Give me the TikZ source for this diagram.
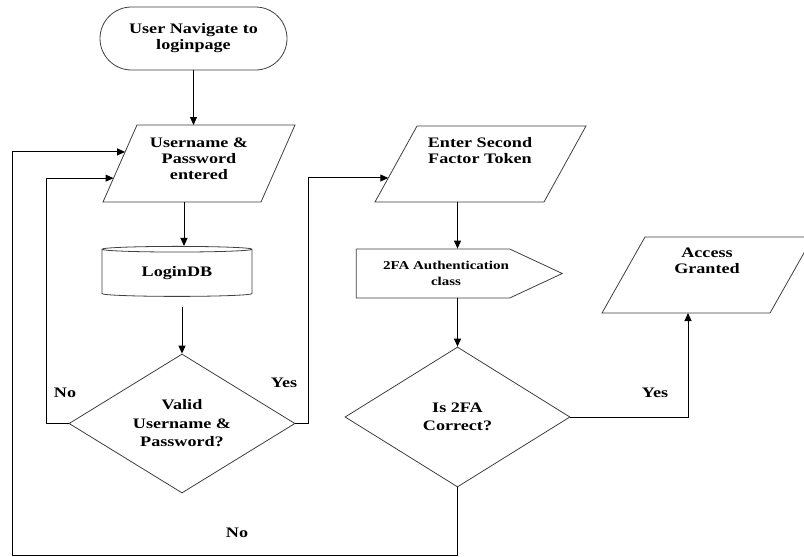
\documentclass[tikz,border=0pt]{standalone}
\usepackage{fontspec}
\setmainfont{Liberation Serif}[FakeStretch=1.25]
\usetikzlibrary{shapes.geometric,shapes.symbols,shapes.misc,arrows.meta,calc}
\begin{document}
\begin{tikzpicture}[x=1pt,y=-1pt,
  shp/.style={draw=black!75, line width=0.8pt, inner sep=0pt},
  txt/.style={font=\fontsize{14.5}{16}\selectfont\bfseries, align=center},
  dtxt/.style={font=\fontsize{14.5}{18.5}\selectfont\bfseries, align=center},
  stxt/.style={font=\fontsize{12}{16}\selectfont\bfseries, align=center},
  lbl/.style={font=\fontsize{14.5}{16}\selectfont\bfseries},
  conn/.style={draw=black, line width=1pt, -{Triangle[length=8pt,width=7pt]}}
]
\useasboundingbox (0,0) rectangle (804,557);
\fill[white] (0,0) rectangle (804,557);

% parallelogram corners
\coordinate (p1bl) at (103,202); \coordinate (p1tl) at (137,125);
\coordinate (p1tr) at (295,125); \coordinate (p1br) at (261,202);
\coordinate (p2bl) at (375,202); \coordinate (p2tl) at (417,126);
\coordinate (p2tr) at (586,126); \coordinate (p2br) at (544,202);
\coordinate (p3bl) at (602,313); \coordinate (p3tl) at (645,237);
\coordinate (p3tr) at (813,237); \coordinate (p3br) at (770,313);

% shapes
\node[shp, rounded rectangle, minimum width=187pt, minimum height=63pt, txt] (start) at (193.5,38.5) {User Navigate to\\loginpage};

\draw[shp] (p1bl) -- (p1tl) -- (p1tr) -- (p1br) -- cycle;
\node[txt] (p1) at (199,159) {Username \&\\Password\\entered};

\node[shp, cylinder, shape border rotate=90, aspect=0.08, minimum width=150pt, minimum height=50pt, txt] (db) at (177,273) {LoginDB};
\node[shp, diamond, aspect=1.6, minimum width=226pt, minimum height=139pt, dtxt] (d1) at (182,423.5) {Valid\\Username \&\\Password?};

\draw[shp] (p2bl) -- (p2tl) -- (p2tr) -- (p2br) -- cycle;
\node[txt] (p2) at (480,151) {Enter Second\\Factor Token};

\node[shp, signal, signal to=east, signal pointer angle=50, minimum width=206pt, minimum height=49pt,
  label={[stxt, xshift=13pt]center:{2FA Authentication\\class}}] (sig) at (433,273.5) {};
\node[shp, diamond, aspect=1.6, minimum width=225pt, minimum height=140pt, dtxt] (d2) at (457.5,417) {Is 2FA\\Correct?};

\draw[shp] (p3bl) -- (p3tl) -- (p3tr) -- (p3br) -- cycle;
\node[txt] (p3) at (707,261) {Access\\Granted};

% labels
\node[lbl] (no1) at (65,393) {No};
\node[lbl] (yes1) at (284,383) {Yes};
\node[lbl] (no2) at (237,533) {No};
\node[lbl] (yes2) at (655,393) {Yes};

% connection points
\coordinate (p1a) at ($(p1bl)!0.31!(p1tl)$);
\coordinate (p1b) at ($(p1bl)!0.65!(p1tl)$);
\coordinate (p2a) at ($(p2bl)!0.316!(p2tl)$);
\coordinate (p3a) at ($(p3bl)!0.512!(p3br)$);
\coordinate (dbtop) at ($(db.north)+(7,0)$);
\coordinate (dbout) at ($(db.south)+(5,10)$);

% connectors
\draw[conn] (start.south) -- (start.south |- p1tl);
\draw[conn] (dbtop |- p1bl) -- (dbtop);
\draw[conn] (dbout) -- (dbout |- d1.north);
\draw[conn] (d1.west) -- ++(-22,0) |- (p1a);
\draw[conn] (d1.east) -- ++(13,0) |- (p2a);
\draw[conn] (d2.north |- p2bl) -- (d2.north |- sig.north);
\draw[conn] (d2.north |- sig.south) -- (d2.north);
\draw[conn] (d2.east) -| (p3a);
\draw[conn] (d2.south) -- ++(0,68) -- ++(-445.5,0) |- (p1b);
\end{tikzpicture}
\end{document}
